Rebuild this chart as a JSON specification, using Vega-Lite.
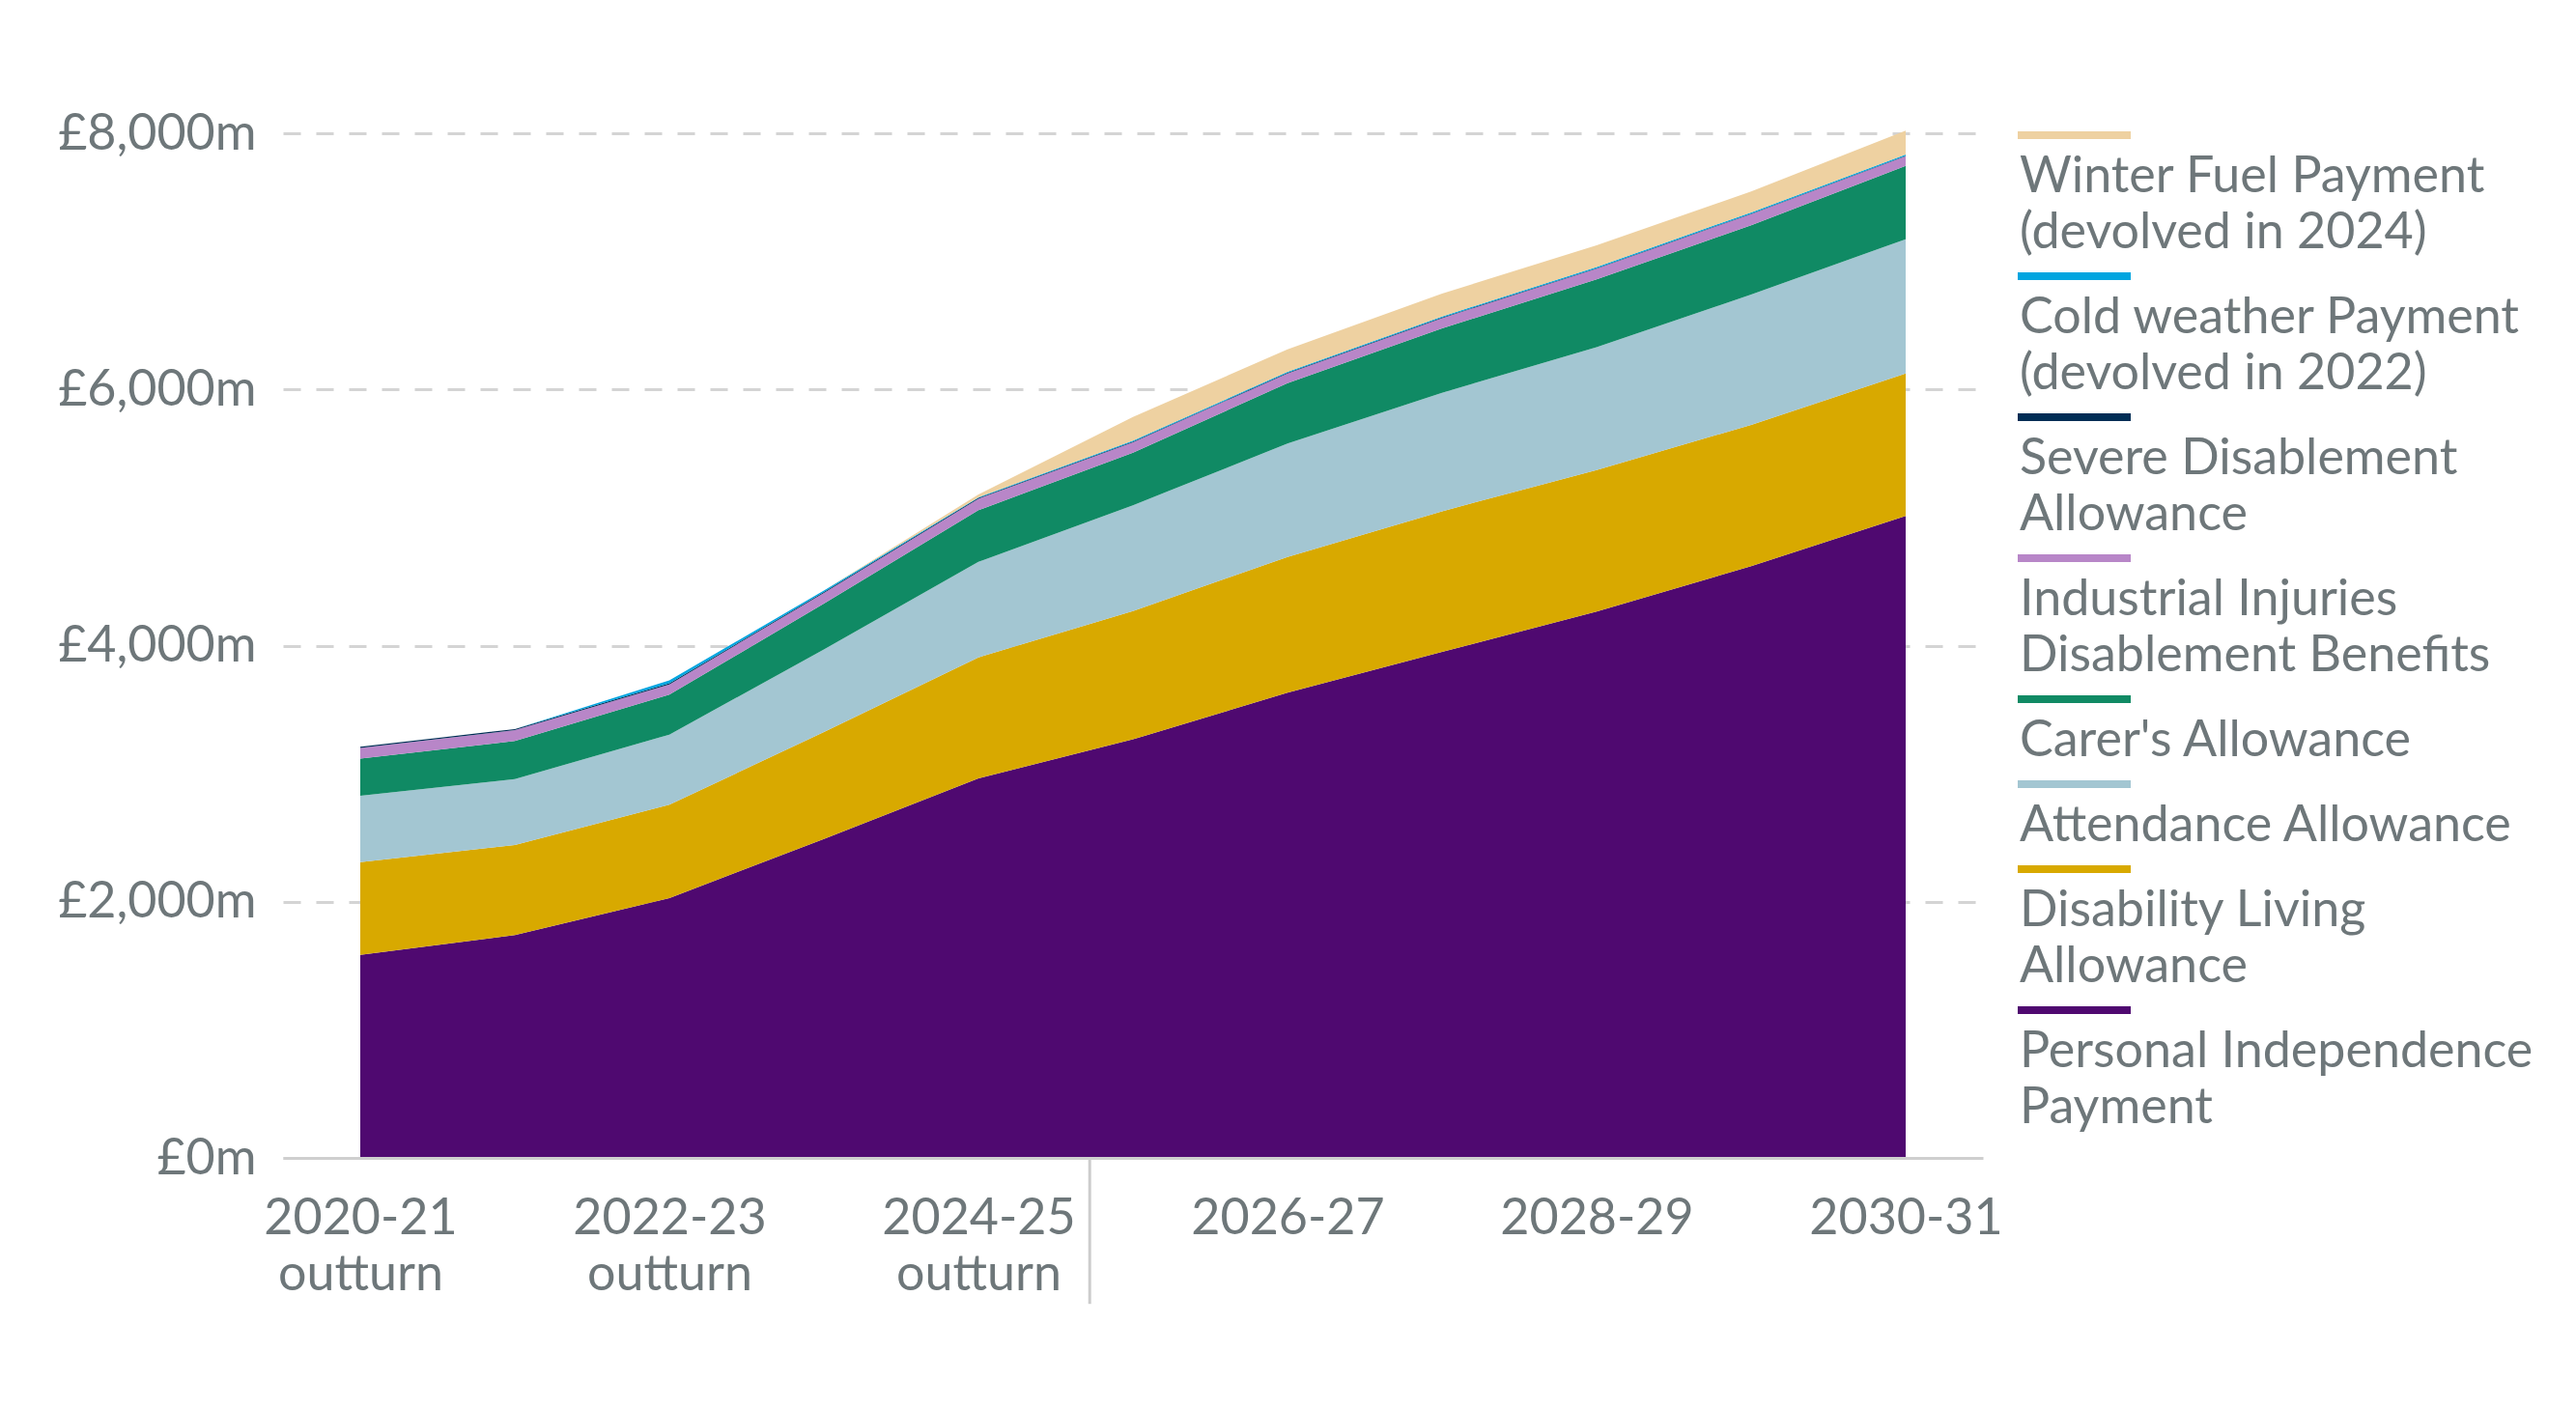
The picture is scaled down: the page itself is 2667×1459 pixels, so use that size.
{
  "$schema": "https://vega.github.io/schema/vega-lite/v6.json",
  "width": 1760,
  "height": 1061,
  "autosize": {"type": "none"},
  "padding": {"left": 293, "top": 138, "right": 614, "bottom": 260},
  "background": "white",
  "config": {
    "view": {"stroke": null},
    "font": "Lato",
    "axis": {"labelFont": "Lato", "labelFontSize": 52, "labelColor": "#6e777a", "labelLimit": 1000, "title": null}
  },
  "layer": [
    {
      "data": {
        "values": [
          {"year": 2020, "benefit": "Personal Independence Payment", "rank": 1, "spend": 1585},
          {"year": 2020, "benefit": "Disability Living Allowance", "rank": 2, "spend": 725},
          {"year": 2020, "benefit": "Attendance Allowance", "rank": 3, "spend": 517},
          {"year": 2020, "benefit": "Carer's Allowance", "rank": 4, "spend": 290},
          {"year": 2020, "benefit": "Industrial Injuries Disablement Benefits", "rank": 5, "spend": 83},
          {"year": 2020, "benefit": "Severe Disablement Allowance", "rank": 6, "spend": 10},
          {"year": 2020, "benefit": "Cold weather Payment (devolved in 2022)", "rank": 7, "spend": 0},
          {"year": 2020, "benefit": "Winter Fuel Payment (devolved in 2024)", "rank": 8, "spend": 0},

          {"year": 2021, "benefit": "Personal Independence Payment", "rank": 1, "spend": 1739},
          {"year": 2021, "benefit": "Disability Living Allowance", "rank": 2, "spend": 704},
          {"year": 2021, "benefit": "Attendance Allowance", "rank": 3, "spend": 515},
          {"year": 2021, "benefit": "Carer's Allowance", "rank": 4, "spend": 297},
          {"year": 2021, "benefit": "Industrial Injuries Disablement Benefits", "rank": 5, "spend": 85},
          {"year": 2021, "benefit": "Severe Disablement Allowance", "rank": 6, "spend": 8},
          {"year": 2021, "benefit": "Cold weather Payment (devolved in 2022)", "rank": 7, "spend": 0},
          {"year": 2021, "benefit": "Winter Fuel Payment (devolved in 2024)", "rank": 8, "spend": 0},

          {"year": 2022, "benefit": "Personal Independence Payment", "rank": 1, "spend": 2028},
          {"year": 2022, "benefit": "Disability Living Allowance", "rank": 2, "spend": 729},
          {"year": 2022, "benefit": "Attendance Allowance", "rank": 3, "spend": 548},
          {"year": 2022, "benefit": "Carer's Allowance", "rank": 4, "spend": 312},
          {"year": 2022, "benefit": "Industrial Injuries Disablement Benefits", "rank": 5, "spend": 80},
          {"year": 2022, "benefit": "Severe Disablement Allowance", "rank": 6, "spend": 8},
          {"year": 2022, "benefit": "Cold weather Payment (devolved in 2022)", "rank": 7, "spend": 23},
          {"year": 2022, "benefit": "Winter Fuel Payment (devolved in 2024)", "rank": 8, "spend": 0},

          {"year": 2023, "benefit": "Personal Independence Payment", "rank": 1, "spend": 2490},
          {"year": 2023, "benefit": "Disability Living Allowance", "rank": 2, "spend": 835},
          {"year": 2023, "benefit": "Attendance Allowance", "rank": 3, "spend": 645},
          {"year": 2023, "benefit": "Carer's Allowance", "rank": 4, "spend": 358},
          {"year": 2023, "benefit": "Industrial Injuries Disablement Benefits", "rank": 5, "spend": 83},
          {"year": 2023, "benefit": "Severe Disablement Allowance", "rank": 6, "spend": 7},
          {"year": 2023, "benefit": "Cold weather Payment (devolved in 2022)", "rank": 7, "spend": 12},
          {"year": 2023, "benefit": "Winter Fuel Payment (devolved in 2024)", "rank": 8, "spend": 0},

          {"year": 2024, "benefit": "Personal Independence Payment", "rank": 1, "spend": 2963},
          {"year": 2024, "benefit": "Disability Living Allowance", "rank": 2, "spend": 945},
          {"year": 2024, "benefit": "Attendance Allowance", "rank": 3, "spend": 746},
          {"year": 2024, "benefit": "Carer's Allowance", "rank": 4, "spend": 403},
          {"year": 2024, "benefit": "Industrial Injuries Disablement Benefits", "rank": 5, "spend": 90},
          {"year": 2024, "benefit": "Severe Disablement Allowance", "rank": 6, "spend": 6},
          {"year": 2024, "benefit": "Cold weather Payment (devolved in 2022)", "rank": 7, "spend": 5},
          {"year": 2024, "benefit": "Winter Fuel Payment (devolved in 2024)", "rank": 8, "spend": 22},

          {"year": 2025, "benefit": "Personal Independence Payment", "rank": 1, "spend": 3268},
          {"year": 2025, "benefit": "Disability Living Allowance", "rank": 2, "spend": 1002},
          {"year": 2025, "benefit": "Attendance Allowance", "rank": 3, "spend": 826},
          {"year": 2025, "benefit": "Carer's Allowance", "rank": 4, "spend": 411},
          {"year": 2025, "benefit": "Industrial Injuries Disablement Benefits", "rank": 5, "spend": 80},
          {"year": 2025, "benefit": "Severe Disablement Allowance", "rank": 6, "spend": 5},
          {"year": 2025, "benefit": "Cold weather Payment (devolved in 2022)", "rank": 7, "spend": 8},
          {"year": 2025, "benefit": "Winter Fuel Payment (devolved in 2024)", "rank": 8, "spend": 185},

          {"year": 2026, "benefit": "Personal Independence Payment", "rank": 1, "spend": 3632},
          {"year": 2026, "benefit": "Disability Living Allowance", "rank": 2, "spend": 1060},
          {"year": 2026, "benefit": "Attendance Allowance", "rank": 3, "spend": 885},
          {"year": 2026, "benefit": "Carer's Allowance", "rank": 4, "spend": 472},
          {"year": 2026, "benefit": "Industrial Injuries Disablement Benefits", "rank": 5, "spend": 76},
          {"year": 2026, "benefit": "Severe Disablement Allowance", "rank": 6, "spend": 5},
          {"year": 2026, "benefit": "Cold weather Payment (devolved in 2022)", "rank": 7, "spend": 8},
          {"year": 2026, "benefit": "Winter Fuel Payment (devolved in 2024)", "rank": 8, "spend": 175},

          {"year": 2027, "benefit": "Personal Independence Payment", "rank": 1, "spend": 3951},
          {"year": 2027, "benefit": "Disability Living Allowance", "rank": 2, "spend": 1098},
          {"year": 2027, "benefit": "Attendance Allowance", "rank": 3, "spend": 925},
          {"year": 2027, "benefit": "Carer's Allowance", "rank": 4, "spend": 503},
          {"year": 2027, "benefit": "Industrial Injuries Disablement Benefits", "rank": 5, "spend": 80},
          {"year": 2027, "benefit": "Severe Disablement Allowance", "rank": 6, "spend": 5},
          {"year": 2027, "benefit": "Cold weather Payment (devolved in 2022)", "rank": 7, "spend": 8},
          {"year": 2027, "benefit": "Winter Fuel Payment (devolved in 2024)", "rank": 8, "spend": 178},

          {"year": 2028, "benefit": "Personal Independence Payment", "rank": 1, "spend": 4265},
          {"year": 2028, "benefit": "Disability Living Allowance", "rank": 2, "spend": 1106},
          {"year": 2028, "benefit": "Attendance Allowance", "rank": 3, "spend": 958},
          {"year": 2028, "benefit": "Carer's Allowance", "rank": 4, "spend": 531},
          {"year": 2028, "benefit": "Industrial Injuries Disablement Benefits", "rank": 5, "spend": 82},
          {"year": 2028, "benefit": "Severe Disablement Allowance", "rank": 6, "spend": 5},
          {"year": 2028, "benefit": "Cold weather Payment (devolved in 2022)", "rank": 7, "spend": 9},
          {"year": 2028, "benefit": "Winter Fuel Payment (devolved in 2024)", "rank": 8, "spend": 169},

          {"year": 2029, "benefit": "Personal Independence Payment", "rank": 1, "spend": 4620},
          {"year": 2029, "benefit": "Disability Living Allowance", "rank": 2, "spend": 1103},
          {"year": 2029, "benefit": "Attendance Allowance", "rank": 3, "spend": 1018},
          {"year": 2029, "benefit": "Carer's Allowance", "rank": 4, "spend": 540},
          {"year": 2029, "benefit": "Industrial Injuries Disablement Benefits", "rank": 5, "spend": 88},
          {"year": 2029, "benefit": "Severe Disablement Allowance", "rank": 6, "spend": 4},
          {"year": 2029, "benefit": "Cold weather Payment (devolved in 2022)", "rank": 7, "spend": 9},
          {"year": 2029, "benefit": "Winter Fuel Payment (devolved in 2024)", "rank": 8, "spend": 163},

          {"year": 2030, "benefit": "Personal Independence Payment", "rank": 1, "spend": 5013},
          {"year": 2030, "benefit": "Disability Living Allowance", "rank": 2, "spend": 1112},
          {"year": 2030, "benefit": "Attendance Allowance", "rank": 3, "spend": 1048},
          {"year": 2030, "benefit": "Carer's Allowance", "rank": 4, "spend": 573},
          {"year": 2030, "benefit": "Industrial Injuries Disablement Benefits", "rank": 5, "spend": 75},
          {"year": 2030, "benefit": "Severe Disablement Allowance", "rank": 6, "spend": 4},
          {"year": 2030, "benefit": "Cold weather Payment (devolved in 2022)", "rank": 7, "spend": 9},
          {"year": 2030, "benefit": "Winter Fuel Payment (devolved in 2024)", "rank": 8, "spend": 186}
        ]
      },
      "mark": {"type": "area", "interpolate": "linear"},
      "encoding": {
        "x": {
          "field": "year",
          "type": "quantitative",
          "scale": {"domain": [2019.5, 2030.5], "nice": false, "zero": false},
          "axis": {
            "values": [2020, 2022, 2024, 2026, 2028, 2030],
            "labelExpr": "datum.value <= 2024 ? [datum.value + '-' + (datum.value - 1999), 'outturn'] : datum.value + '-' + (datum.value - 1999)",
            "grid": false,
            "ticks": false,
            "tickSize": 0,
            "domain": true,
            "domainColor": "#cfcfcf",
            "domainWidth": 3,
            "labelPadding": 37,
            "labelBaseline": "top",
            "labelLineHeight": 58,
            "labelFlush": false,
            "labelOverlap": false,
            "labelBound": false,
            "zindex": 1
          }
        },
        "y": {
          "field": "spend",
          "type": "quantitative",
          "stack": "zero",
          "scale": {"domain": [0, 8000], "nice": false},
          "axis": {
            "values": [0, 2000, 4000, 6000, 8000],
            "labelExpr": "'£' + format(datum.value, ',') + 'm'",
            "grid": true,
            "gridColor": "#d4d4d4",
            "gridWidth": 3,
            "gridDash": [18, 16],
            "ticks": false,
            "tickSize": 0,
            "domain": false,
            "labelPadding": 28,
            "zindex": 0
          }
        },
        "color": {
          "field": "benefit",
          "type": "nominal",
          "scale": {
            "domain": [
              "Winter Fuel Payment (devolved in 2024)",
              "Cold weather Payment (devolved in 2022)",
              "Severe Disablement Allowance",
              "Industrial Injuries Disablement Benefits",
              "Carer's Allowance",
              "Attendance Allowance",
              "Disability Living Allowance",
              "Personal Independence Payment"
            ],
            "range": ["#eed1a1", "#00a5e0", "#002d55", "#b886c8", "#108a64", "#a3c6d2", "#d8a900", "#4f0970"]
          },
          "legend": {
            "title": null,
            "orient": "right",
            "offset": 36,
            "padding": 0,
            "symbolType": "M-26,-28H91V-20H-26Z",
            "symbolSize": 4,
            "symbolStrokeWidth": 0,
            "symbolOpacity": 1,
            "labelOffset": -50,
            "labelFont": "Lato",
            "labelFontSize": 52,
            "labelColor": "#6e777a",
            "labelLimit": 1000,
            "labelBaseline": "middle",
            "rowPadding": 15,
            "labelExpr": "datum.label == 'Winter Fuel Payment (devolved in 2024)' ? ['Winter Fuel Payment', '(devolved in 2024)'] : datum.label == 'Cold weather Payment (devolved in 2022)' ? ['Cold weather Payment', '(devolved in 2022)'] : datum.label == 'Severe Disablement Allowance' ? ['Severe Disablement', 'Allowance'] : datum.label == 'Industrial Injuries Disablement Benefits' ? ['Industrial Injuries', 'Disablement Benefits'] : datum.label == 'Disability Living Allowance' ? ['Disability Living', 'Allowance'] : datum.label == 'Personal Independence Payment' ? ['Personal Independence', 'Payment'] : datum.label",
            "encode": {
              "labels": {
                "update": {
                  "lineHeight": {"value": 58},
                  "dy": {"value": 19}
                }
              }
            }
          }
        },
        "order": {"field": "rank", "type": "quantitative"}
      }
    },
    {
      "data": {"values": [{}]},
      "mark": {"type": "rule", "color": "#cccccc", "strokeWidth": 3},
      "encoding": {
        "x": {"datum": 2024.72},
        "y": {"datum": 0},
        "y2": {"datum": -1140}
      }
    }
  ]
}
